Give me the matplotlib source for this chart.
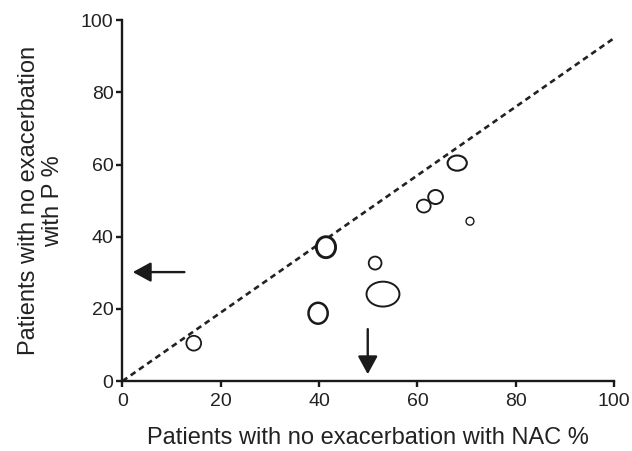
import matplotlib
matplotlib.use("Agg")
import matplotlib.pyplot as plt
from matplotlib.patches import Ellipse

plt.rcParams['font.family'] = ['Liberation Sans', 'DejaVu Sans']

# Study data (x: NAC %, y: P %), ellipse sizes (data units)
nac_pct = [14.5, 39.8, 41.4, 51.4, 53.0, 61.3, 63.7, 68.1, 70.7]
p_pct = [10.5, 18.8, 37.1, 32.7, 24.1, 48.5, 51.0, 60.4, 44.3]
ell_w = [3.0, 3.9, 3.9, 2.6, 6.7, 2.8, 3.0, 3.9, 1.6]
ell_h = [4.1, 5.8, 5.8, 3.6, 6.9, 3.6, 3.9, 4.2, 2.2]
ell_lw = [1.3, 1.8, 2.1, 1.3, 1.4, 1.3, 1.4, 1.5, 1.0]

line_x = [0, 100]
line_y = [0, 95]

ticks = [0, 20, 40, 60, 80, 100]

fig = plt.figure(figsize=(6.32, 4.51), dpi=100)
ax = fig.add_axes([0.1938, 0.155, 0.7777, 0.8003])

ax.plot(line_x, line_y, color='#222222', lw=1.9, dashes=(2.2, 1.6))

for x, y, w, h, lw in zip(nac_pct, p_pct, ell_w, ell_h, ell_lw):
    ax.add_patch(Ellipse((x, y), w, h, facecolor='white', edgecolor='#1a1a1a', lw=lw, zorder=3))

arrow_kw = dict(arrowstyle='-|>,head_length=1.1,head_width=0.6', lw=1.7,
                color='#1a1a1a', mutation_scale=10, shrinkA=0, shrinkB=0)
ax.annotate('', xy=(2.1, 30.2), xytext=(12.6, 30.2), arrowprops=arrow_kw)
ax.annotate('', xy=(49.9, 1.9), xytext=(49.9, 14.4), arrowprops=arrow_kw)

ax.set_xlim(0, 100)
ax.set_ylim(0, 100)
ax.set_xticks(ticks)
ax.set_yticks(ticks)
for s in ['top', 'right']:
    ax.spines[s].set_visible(False)
for s in ['left', 'bottom']:
    ax.spines[s].set_linewidth(1.7)
    ax.spines[s].set_color('#1a1a1a')
ax.tick_params(length=4.5, width=1.7, color='#1a1a1a', labelsize=14, labelcolor='#222222', pad=2)
ax.tick_params(axis='x', pad=4)

ax.set_xlabel('Patients with no exacerbation with NAC %', fontsize=17, color='#222222', labelpad=12)
ax.set_ylabel('Patients with no exacerbation\nwith P %', fontsize=17, color='#222222', labelpad=12,
              linespacing=1.1)

fig.savefig('out.png', dpi=100)
